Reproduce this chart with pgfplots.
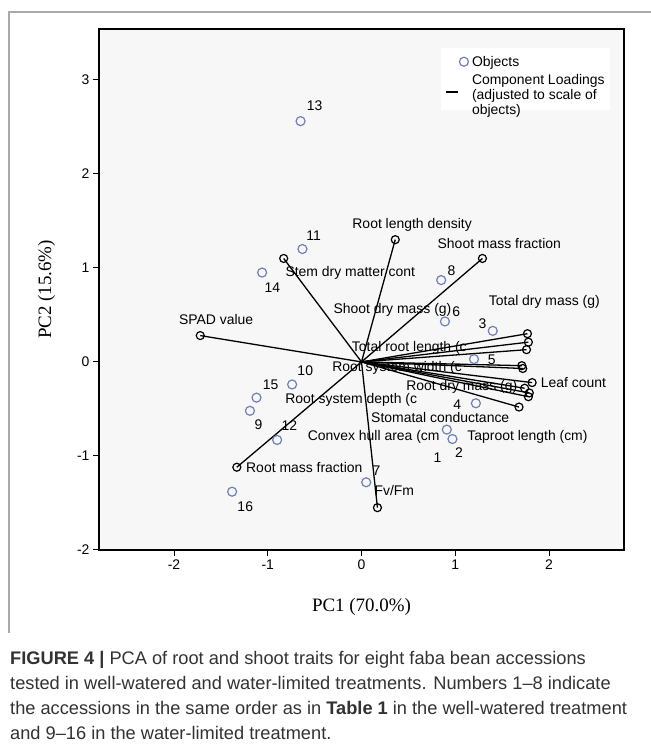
\documentclass[border=0pt]{standalone}
\usepackage{pgfplots}
\pgfplotsset{compat=1.18}
\usepackage{fontspec}
\setmainfont{Liberation Sans}
\newfontfamily\seriffont{Liberation Serif}
\definecolor{objcol}{RGB}{112,128,180}
\definecolor{framecol}{RGB}{170,170,170}
\definecolor{bgcol}{RGB}{247,247,247}
\definecolor{capcol}{RGB}{50,50,50}
\newcommand{\lbl}{\fontsize{14}{14}\selectfont}
\newcommand{\capfont}{\fontsize{18.3}{25}\selectfont}
\begin{document}
\begin{tikzpicture}[x=1bp,y=1bp]
\path[use as bounding box] (0,0) rectangle (651,752);
\draw[framecol, line width=1.2bp] (9,119) -- (9,740) -- (651,740);
\begin{axis}[
  at={(99bp,202bp)}, anchor=south west,
  scale only axis, width=525bp, height=521bp,
  xmin=-2.8, xmax=2.8, ymin=-2, ymax=3.54,
  axis background/.style={fill=bgcol},
  axis line style={black, line width=1.2bp},
  tick pos=left, tick align=outside,
  major tick length=6bp,
  tick style={black, line width=1bp},
  xtick={-2,-1,0,1,2}, xticklabels={-2,-1,0,1,2},
  ytick={-2,-1,0,1,2,3}, yticklabels={-2,-1,0,1,2,3},
  ticklabel style={font=\fontsize{14}{14}\selectfont},
  xlabel={PC1 (70.0\%)}, ylabel={PC2 (15.6\%)},
  label style={font=\seriffont\fontsize{19}{19}\selectfont},
  xlabel style={at={(axis description cs:0.5,-0.11)}, anchor=center},
  ylabel style={at={(axis description cs:-0.10,0.5)}, anchor=center},
  legend style={at={(rel axis cs:0.973,0.964)}, anchor=north east, draw=none, fill=white,
    font=\fontsize{14}{14.8}\selectfont, row sep=5bp, column sep=2bp, inner xsep=4bp, inner ysep=7bp,
    nodes={inner sep=1bp}},
  legend cell align=left,
  clip=false,
  load/.style={black, line width=1.3bp, mark=o, mark size=4bp, mark indices={2},
    mark options={solid, line width=1.2bp}},
]
\addplot[only marks, mark=o, mark size=4.5bp, mark options={draw=objcol, line width=1.2bp},
  legend image code/.code={\draw[objcol, line width=1.2bp] (18bp,0bp) circle[radius=4.5bp];}]
coordinates {(0.91,-0.72) (0.97,-0.82) (1.40,0.33) (1.22,-0.44) (1.20,0.03) (0.89,0.43)
 (0.05,-1.28) (0.85,0.87) (-1.19,-0.52) (-0.74,-0.24) (-0.63,1.20) (-0.90,-0.83)
 (-0.65,2.56) (-1.06,0.95) (-1.12,-0.38) (-1.38,-1.38)};
\addlegendentry{Objects}
\addplot[load, legend image code/.code={\draw[black,line width=1.3bp] (0bp,-4bp) -- (12bp,-4bp);}]
 coordinates {(0,0) (0.36,1.30)};
\addlegendentry{\begin{tabular}{@{}l@{}}Component Loadings\\(adjusted to scale of\\objects)\end{tabular}}
\addplot[load, forget plot] coordinates {(0,0) (1.29,1.10)};
\addplot[load, forget plot] coordinates {(0,0) (-0.83,1.10)};
\addplot[load, forget plot] coordinates {(0,0) (-1.72,0.28)};
\addplot[load, forget plot] coordinates {(0,0) (-1.33,-1.12)};
\addplot[load, forget plot] coordinates {(0,0) (0.17,-1.55)};
\addplot[load, forget plot] coordinates {(0,0) (1.77,0.30)};
\addplot[load, forget plot] coordinates {(0,0) (1.78,0.21)};
\addplot[load, forget plot] coordinates {(0,0) (1.76,0.13)};
\addplot[load, forget plot] coordinates {(0,0) (1.71,-0.04)};
\addplot[load, forget plot] coordinates {(0,0) (1.72,-0.07)};
\addplot[load, forget plot] coordinates {(0,0) (1.82,-0.22)};
\addplot[load, forget plot] coordinates {(0,0) (1.74,-0.28)};
\addplot[load, forget plot] coordinates {(0,0) (1.79,-0.33)};
\addplot[load, forget plot] coordinates {(0,0) (1.78,-0.37)};
\addplot[load, forget plot] coordinates {(0,0) (1.68,-0.48)};
% object numbers
\node[font=\lbl] at (axis cs:-0.50,2.72) {13};
\node[font=\lbl] at (axis cs:-0.51,1.34) {11};
\node[font=\lbl] at (axis cs:-0.95,0.79) {14};
\node[font=\lbl] at (axis cs:0.96,0.97) {8};
\node[font=\lbl] at (axis cs:1.01,0.53) {6};
\node[font=\lbl] at (axis cs:1.29,0.41) {3};
\node[font=\lbl] at (axis cs:1.39,0.02) {5};
\node[font=\lbl] at (axis cs:1.02,-0.46) {4};
\node[font=\lbl] at (axis cs:0.81,-1.02) {1};
\node[font=\lbl] at (axis cs:1.04,-0.97) {2};
\node[font=\lbl] at (axis cs:0.16,-1.16) {7};
\node[font=\lbl] at (axis cs:-0.60,-0.09) {10};
\node[font=\lbl] at (axis cs:-0.97,-0.24) {15};
\node[font=\lbl] at (axis cs:-1.10,-0.67) {9};
\node[font=\lbl] at (axis cs:-0.77,-0.68) {12};
\node[font=\lbl] at (axis cs:-1.24,-1.54) {16};
% loading labels
\node[font=\lbl] at (axis cs:0.54,1.46) {Root length density};
\node[font=\lbl] at (axis cs:1.47,1.26) {Shoot mass fraction};
\node[font=\lbl] at (axis cs:-0.12,0.95) {Stem dry matter cont};
\node[font=\lbl] at (axis cs:0.33,0.55) {Shoot dry mass (g)};
\node[font=\lbl] at (axis cs:1.95,0.64) {Total dry mass (g)};
\node[font=\lbl] at (axis cs:-1.55,0.45) {SPAD value};
\node[font=\lbl] at (axis cs:0.51,0.15) {Total root length (c};
\node[font=\lbl] at (axis cs:0.38,-0.06) {Root system width (c};
\node[font=\lbl] at (axis cs:1.07,-0.27) {Root dry mass (g)};
\node[font=\lbl] at (axis cs:2.26,-0.22) {Leaf count};
\node[font=\lbl] at (axis cs:0.84,-0.59) {Stomatal conductance};
\node[font=\lbl] at (axis cs:1.77,-0.80) {Taproot length (cm)};
\node[font=\lbl] at (axis cs:-0.11,-0.40) {Root system depth (c};
\node[font=\lbl] at (axis cs:0.13,-0.80) {Convex hull area (cm};
\node[font=\lbl] at (axis cs:-0.61,-1.12) {Root mass fraction};
\node[font=\lbl] at (axis cs:0.35,-1.37) {Fv/Fm};
\end{axis}
\node[anchor=base west, font=\capfont, text=capcol, inner sep=0pt] at (10,87) {\textbf{FIGURE 4 |} PCA of root and shoot traits for eight faba bean accessions};
\node[anchor=base west, font=\capfont, text=capcol, inner sep=0pt] at (10,62) {tested in well-watered and water-limited treatments. Numbers 1–8 indicate};
\node[anchor=base west, font=\capfont, text=capcol, inner sep=0pt] at (10,37) {the accessions in the same order as in \textbf{Table 1} in the well-watered treatment};
\node[anchor=base west, font=\capfont, text=capcol, inner sep=0pt] at (10,12) {and 9–16 in the water-limited treatment.};
\end{tikzpicture}
\end{document}
